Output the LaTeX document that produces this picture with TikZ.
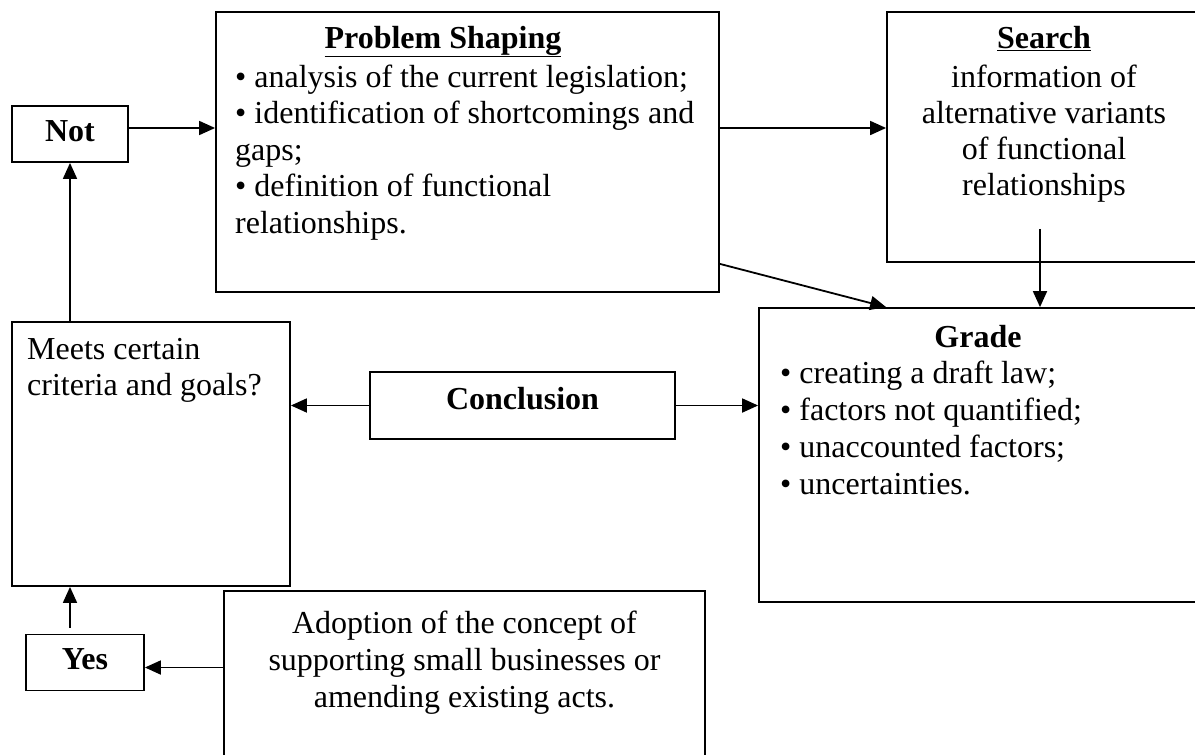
\documentclass[tikz,border=0pt]{standalone}
\usepackage{fontspec}
\setmainfont{Liberation Serif}
\usetikzlibrary{arrows.meta}
\begin{document}
\begin{tikzpicture}[x=1pt,y=-1pt,
  box/.style={draw,line width=1.8pt,inner sep=0pt},
  arr/.style={-{Triangle[length=16pt,width=14pt]},line width=1.8pt},
  txt/.style={inner sep=0pt,font=\fontsize{32}{36.5}\selectfont},
  smallbox/.style={box,font=\fontsize{32}{36.5}\selectfont\bfseries,text height=20pt,text depth=6pt}]
\useasboundingbox (0,0) rectangle (1195,755);
\clip (0,0) rectangle (1195,755);
\node[smallbox,minimum width=116pt,minimum height=56pt] (notb) at (70,134) {Not};
\node[box,minimum width=503pt,minimum height=280pt] (shape) at (467.5,152) {};
\node[box,minimum width=314pt,minimum height=250pt] (search) at (1044,137) {};
\node[box,minimum width=440pt,minimum height=294pt] (grade) at (979,455) {};
\node[box,minimum width=278pt,minimum height=264pt] (meets) at (151,454) {};
\node[smallbox,text depth=12pt,minimum width=305pt,minimum height=67pt] (concl) at (522.5,405.5) {Conclusion};
\node[smallbox,minimum width=118pt,minimum height=56pt] (yes) at (85,662.5) {Yes};
\node[box,minimum width=481pt,minimum height=190pt] (adopt) at (464.5,686) {};
\node[txt,anchor=base] (shapetitle) at (443,48) {\textbf{\underline{Problem Shaping}}};
\node[txt,anchor=north west,align=left] (shapetext) at (235,61.5) {\strut• analysis of the current legislation;\\• identification of shortcomings and\\gaps;\\• definition of functional\\relationships.};
\node[txt,anchor=base] (searchtitle) at (1044,48) {\textbf{\underline{Search}}};
\node[txt,anchor=north,align=center,font=\fontsize{32}{36}\selectfont] (searchtext) at (1044,61.8) {\strut information of\\alternative variants\\of functional\\relationships};
\node[txt,anchor=base] (gradetitle) at (978,347) {\textbf{Grade}};
\node[txt,anchor=north west,align=left,font=\fontsize{32}{37}\selectfont] (gradetext) at (780,357.1) {\strut• creating a draft law;\\• factors not quantified;\\• unaccounted factors;\\• uncertainties.};
\node[txt,anchor=north west,align=left] (meetstext) at (27,333.5) {\strut Meets certain\\criteria and goals?};
\node[txt,anchor=north,align=center,font=\fontsize{32}{37}\selectfont] (adopttext) at (464.5,607.1) {\strut Adoption of the concept of\\supporting small businesses or\\amending existing acts.};
\draw[arr] ([yshift=6pt]notb.east) -- ([yshift=6pt]notb.east -| shape.west);
\draw[arr] ([yshift=24pt]shape.east) -- ([yshift=24pt]shape.east -| search.west);
\draw[arr] ([yshift=29pt]shape.south east) -- ([xshift=128pt]grade.north west);
\draw[arr] ([xshift=-4pt,yshift=34pt]search.south) -- ([xshift=-4pt]search.south |- grade.north);
\draw[arr] (concl.west) -- (concl.west -| meets.east);
\draw[arr] (concl.east) -- (concl.east -| grade.west);
\draw[arr] (notb.south |- meets.north) -- (notb.south);
\draw[arr] ([yshift=6pt]yes.north -| notb.south) -- (notb.south |- meets.south);
\draw[arr] ([yshift=-5pt]yes.east -| adopt.west) -- ([yshift=-5pt]yes.east);
\end{tikzpicture}
\end{document}
